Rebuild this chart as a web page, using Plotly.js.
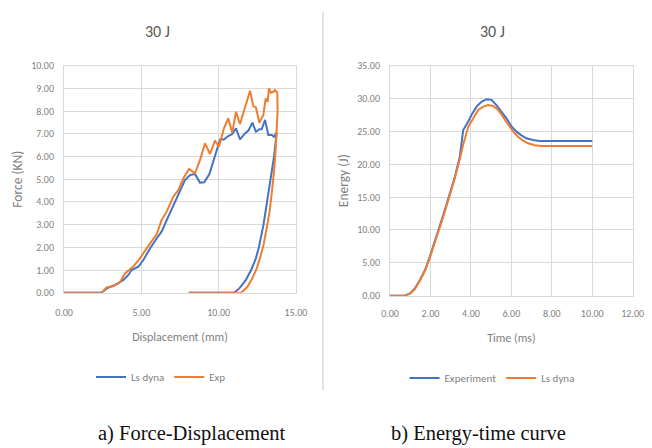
<!DOCTYPE html>
<html><head><meta charset="utf-8">
<script src="https://cdn.plot.ly/plotly-3.0.1.min.js"></script>
<style>html,body{margin:0;padding:0;background:#fff}#c{width:652px;height:448px}</style>
</head><body><div id="c"></div>
<script>
// Force-Displacement (30 J)
const lsDynaDisp = [0, 2.43, 2.76, 3.30, 3.84, 4.16, 4.37, 4.81, 5.13, 5.56, 5.99, 6.31, 6.64, 7.07, 7.50, 7.82, 8.15, 8.47, 8.79, 9.07, 9.40, 9.76, 10.09, 10.34, 10.62, 10.88, 11.12, 11.38, 11.70, 11.92, 12.18, 12.41, 12.63, 12.78, 13.00, 13.21, 13.43, 13.58, 13.75, 13.58, 13.35, 13.14, 12.90, 12.60, 12.40, 12.10, 11.75, 11.35, 11.00, 8.10];
const lsDynaForce = [0, 0, 0.19, 0.34, 0.56, 0.78, 1.00, 1.15, 1.44, 1.95, 2.39, 2.69, 3.20, 3.86, 4.52, 4.96, 5.18, 5.23, 4.85, 4.86, 5.23, 6.02, 6.75, 6.75, 6.90, 6.99, 7.24, 6.75, 7.02, 7.14, 7.49, 7.09, 7.20, 7.20, 7.61, 6.95, 6.95, 6.87, 7.05, 6.00, 5.00, 4.00, 3.00, 2.00, 1.50, 1.00, 0.55, 0.20, 0, 0];
const expDisp = [0, 2.43, 2.76, 3.19, 3.62, 3.94, 4.48, 4.91, 5.34, 5.67, 5.99, 6.31, 6.64, 7.07, 7.39, 7.72, 8.08, 8.47, 8.79, 9.12, 9.44, 9.76, 10.02, 10.34, 10.62, 10.88, 11.12, 11.38, 11.70, 12.03, 12.24, 12.41, 12.63, 12.89, 13.04, 13.17, 13.25, 13.38, 13.53, 13.64, 13.79, 13.81, 13.70, 13.60, 13.45, 13.30, 13.12, 12.90, 12.70, 12.45, 12.15, 11.85, 11.45, 8.05];
const expForce = [0, 0, 0.23, 0.29, 0.46, 0.85, 1.15, 1.51, 1.95, 2.25, 2.57, 3.20, 3.57, 4.23, 4.52, 5.04, 5.45, 5.26, 5.84, 6.58, 6.11, 6.70, 6.43, 7.24, 7.68, 7.05, 7.97, 7.43, 8.12, 8.90, 8.22, 8.16, 7.49, 7.83, 8.56, 8.41, 9.00, 8.81, 8.85, 8.93, 8.81, 8.00, 6.50, 5.50, 4.50, 3.60, 2.90, 2.10, 1.60, 1.05, 0.60, 0.25, 0, 0];

// Energy-time (30 J)
const expTime = [0, 0.74, 0.99, 1.23, 1.48, 1.73, 1.97, 2.22, 2.47, 2.71, 2.96, 3.21, 3.45, 3.62, 3.87, 4.03, 4.28, 4.52, 4.77, 5.02, 5.26, 5.51, 5.76, 6.00, 6.25, 6.50, 6.74, 7.07, 7.40, 10.00];
const expEnergy = [0, 0, 0.36, 1.12, 2.38, 3.90, 5.94, 8.22, 10.76, 13.04, 15.58, 18.11, 21.16, 25.20, 26.50, 27.50, 28.77, 29.50, 29.90, 29.80, 29.00, 28.00, 27.00, 25.80, 24.96, 24.40, 23.95, 23.70, 23.54, 23.54];
const dynaTime = [0, 0.74, 0.99, 1.23, 1.48, 1.73, 1.97, 2.22, 2.47, 2.71, 2.96, 3.21, 3.45, 3.62, 3.87, 4.11, 4.36, 4.61, 4.85, 5.10, 5.35, 5.59, 5.84, 6.09, 6.33, 6.58, 6.83, 7.15, 7.48, 10.00];
const dynaEnergy = [0, 0, 0.30, 1.00, 2.30, 3.80, 5.80, 8.00, 10.50, 12.80, 15.30, 17.90, 20.80, 23.00, 25.70, 27.00, 28.26, 28.77, 29.00, 28.87, 28.26, 27.20, 26.10, 24.96, 24.20, 23.60, 23.19, 22.90, 22.78, 22.78];

const xTickVals1 = [0, 5, 10, 15];
const yTickVals1 = [0,1,2,3,4,5,6,7,8,9,10];
const xTickVals2 = [0, 2, 4, 6, 8, 10, 12];
const yTickVals2 = [0, 5, 10, 15, 20, 25, 30, 35];

const BLUE = '#4472C4', ORANGE = '#ED7D31';
const NARROW = 'Carlito, Lato, "Liberation Sans Narrow", sans-serif';
const GRID = '#d9d9d9';
const tickF = {family: NARROW, size: 10, color: '#7f7f7f'};
const titleF = {family: NARROW, size: 12, color: '#7f7f7f'};
const yTitleF = {family: NARROW, size: 13.5, color: '#7f7f7f'};

const traces = [
  {x: lsDynaDisp, y: lsDynaForce, name: 'Ls dyna', type: 'scatter', mode: 'lines', line: {color: BLUE, width: 2}, xaxis: 'x', yaxis: 'y', legend: 'legend'},
  {x: expDisp, y: expForce, name: 'Exp', type: 'scatter', mode: 'lines', line: {color: ORANGE, width: 2}, xaxis: 'x', yaxis: 'y', legend: 'legend'},
  {x: expTime, y: expEnergy, name: 'Experiment', type: 'scatter', mode: 'lines', line: {color: BLUE, width: 2}, xaxis: 'x2', yaxis: 'y2', legend: 'legend2'},
  {x: dynaTime, y: dynaEnergy, name: 'Ls dyna', type: 'scatter', mode: 'lines', line: {color: ORANGE, width: 2}, xaxis: 'x2', yaxis: 'y2', legend: 'legend2'}
];

function ax(extra) {
  return Object.assign({
    showgrid: true, gridcolor: GRID, gridwidth: 1, zeroline: false,
    showline: true, linecolor: GRID, linewidth: 1, mirror: true,
    ticks: '', tickfont: tickF, tickformat: '.2f', automargin: false, fixedrange: true
  }, extra);
}

const W = 652, H = 448;
const layout = {
  width: W, height: H,
  margin: {l: 0, r: 0, t: 0, b: 0},
  paper_bgcolor: '#fff', plot_bgcolor: '#fff',
  showlegend: true,
  xaxis: ax({domain: [64/W, 296/W], range: [0, 15], tickmode: 'array', tickvals: xTickVals1, anchor: 'y', ticklabelstandoff: 10,
    title: {text: 'Displacement (mm)', font: titleF, standoff: 14}}),
  yaxis: ax({domain: [1 - 292.7/H, 1 - 65.7/H], range: [0, 10], tickmode: 'array', tickvals: yTickVals1, anchor: 'x', ticklabelstandoff: 7,
    title: {text: 'Force (KN)', font: yTitleF, standoff: 5}}),
  xaxis2: ax({domain: [390/W, 632.7/W], range: [0, 12], tickmode: 'array', tickvals: xTickVals2, anchor: 'y2', ticklabelstandoff: 8,
    title: {text: 'Time (ms)', font: titleF, standoff: 14}}),
  yaxis2: ax({domain: [1 - 295.7/H, 1 - 65.7/H], range: [0, 35], tickmode: 'array', tickvals: yTickVals2, anchor: 'x2', ticklabelstandoff: 7,
    title: {text: 'Energy (J)', font: yTitleF, standoff: 5}}),
  legend: {orientation: 'h', x: 161/W, xanchor: 'center', y: 1 - 377/H, yanchor: 'middle',
    font: {family: NARROW, size: 11, color: '#7f7f7f'}, itemwidth: 30, bgcolor: 'rgba(0,0,0,0)', tracegroupgap: 0},
  legend2: {orientation: 'h', x: 492/W, xanchor: 'center', y: 1 - 378/H, yanchor: 'middle',
    font: {family: NARROW, size: 11, color: '#7f7f7f'}, itemwidth: 30, bgcolor: 'rgba(0,0,0,0)', tracegroupgap: 0},
  shapes: [
    {type: 'line', xref: 'paper', yref: 'paper', x0: 323/W, x1: 323/W, y0: 1 - 12/H, y1: 1 - 390/H, line: {color: '#e3e3e3', width: 2}}
  ],
  annotations: [
    {text: '30 J', xref: 'paper', yref: 'paper', x: 157/W, y: 1 - 32/H, xanchor: 'center', yanchor: 'middle', showarrow: false,
      font: {family: NARROW, size: 16, color: '#595959'}},
    {text: '30 J', xref: 'paper', yref: 'paper', x: 492/W, y: 1 - 32/H, xanchor: 'center', yanchor: 'middle', showarrow: false,
      font: {family: NARROW, size: 16, color: '#595959'}},
    {text: 'a) Force-Displacement', xref: 'paper', yref: 'paper', x: 192/W, y: 1 - 433/H, xanchor: 'center', yanchor: 'middle', showarrow: false,
      font: {family: '"Liberation Serif", "DejaVu Serif", serif', size: 20.5, color: '#111'}},
    {text: 'b) Energy-time curve', xref: 'paper', yref: 'paper', x: 478/W, y: 1 - 433/H, xanchor: 'center', yanchor: 'middle', showarrow: false,
      font: {family: '"Liberation Serif", "DejaVu Serif", serif', size: 20.5, color: '#111'}}
  ]
};

Plotly.newPlot('c', traces, layout, {staticPlot: true, displayModeBar: false});
</script>
</body></html>
